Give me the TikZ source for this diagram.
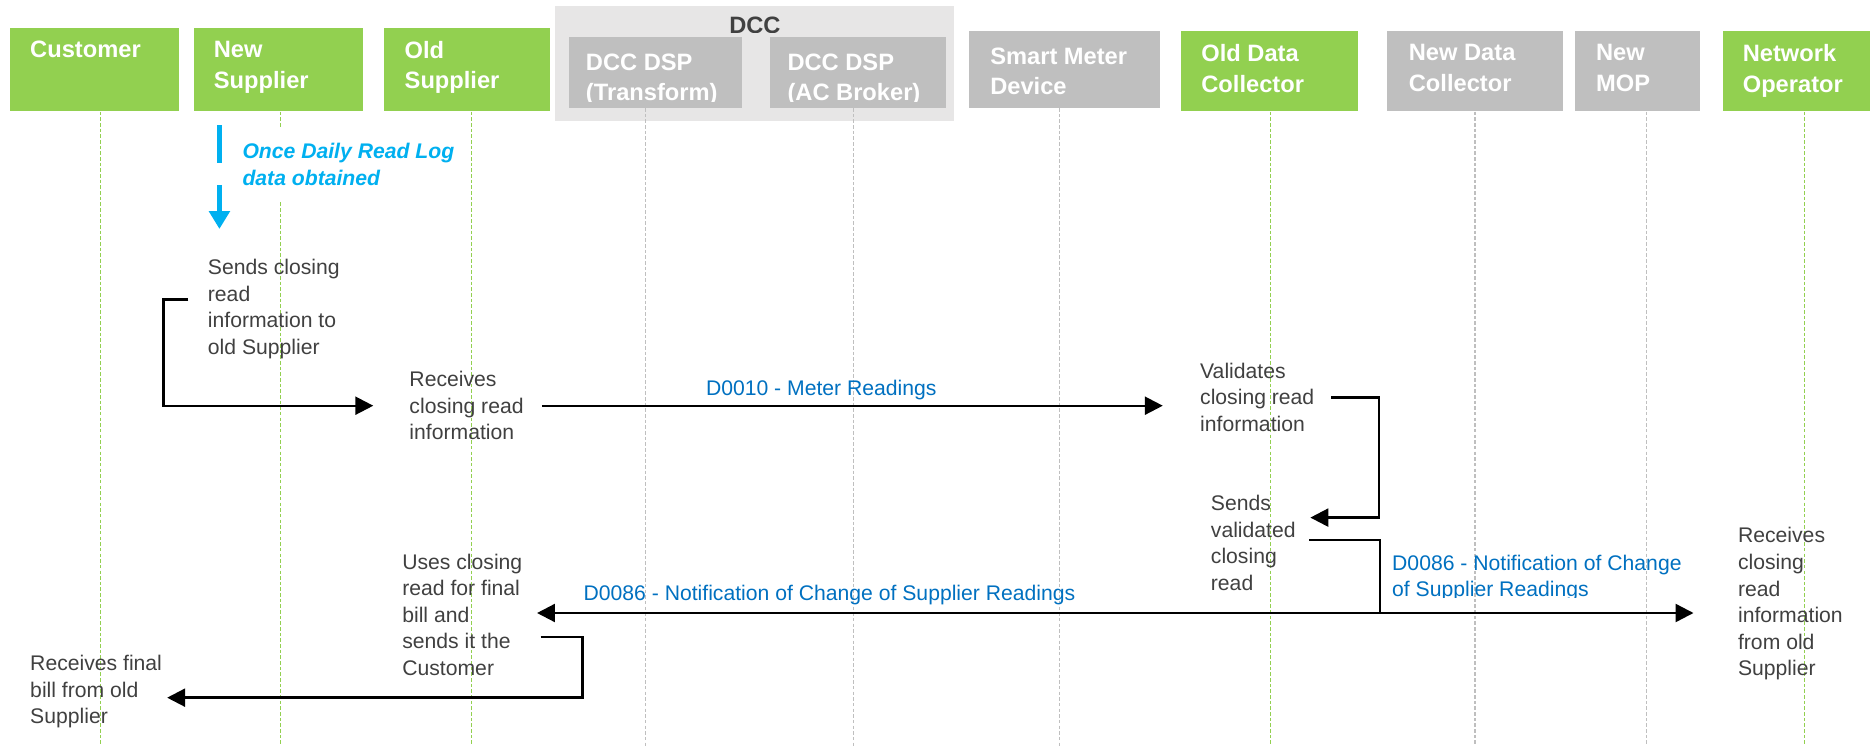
\documentclass[tikz,border=0pt]{standalone}
\usepackage{fontspec}
\setmainfont{Liberation Sans}
\usetikzlibrary{arrows.meta,calc}

\definecolor{actorgreen}{HTML}{92D050}
\definecolor{actorgrey}{HTML}{BFBFBF}
\definecolor{dccgrey}{HTML}{E7E6E6}
\definecolor{notegrey}{HTML}{404040}
\definecolor{msgblue}{HTML}{0070C0}
\definecolor{logblue}{HTML}{00B0F0}

\begin{document}
\begin{tikzpicture}[
    x=0.02cm, y=-0.02cm,
    actor/.style={rectangle, fill=actorgreen, anchor=north west, inner sep=0},
    idle/.style={actor, fill=actorgrey},
    head/.style={anchor=north west, inner xsep=0.34cm, inner ysep=0.22cm, text=white,
        align=left, font=\fontsize{11.3}{14.7}\selectfont\bfseries},
    lifeline/.style={dash pattern=on 0.06cm off 0.035cm, line width=0.55pt},
    note/.style={anchor=north west, inner sep=0, text=notegrey, align=left,
        font=\fontsize{10.1}{12.7}\selectfont},
    msglabel/.style={inner sep=0, text=msgblue, font=\fontsize{10.1}{12.7}\selectfont},
    link/.style={line width=0.04cm},
    msg/.style={link, -{Triangle[length=0.3cm, width=0.3cm]}},
    logline/.style={logblue, line width=0.09cm}
]
\useasboundingbox (0,0) rectangle (1568,625);

% DCC group
\node (dcc) [rectangle, fill=dccgrey, anchor=north west, inner sep=0,
    minimum width=6.7cm, minimum height=1.92cm] at (465,5) {};
\begin{scope}
  \clip (465,5) rectangle (800,27);
  \node (dcctitle) [anchor=north, inner sep=0, text=notegrey,
      font=\fontsize{11.3}{14.7}\selectfont\bfseries] at (633,14) {DCC};
\end{scope}

% actors
\node (cust) [actor, minimum width=2.84cm, minimum height=1.4cm] at (8,23) {};
\node (custtext) [head] at (cust.north west) {Customer};
\node (newsup) [actor, minimum width=2.84cm, minimum height=1.4cm] at (162,23) {};
\node (newsuptext) [head] at (newsup.north west) {New\\Supplier};
\node (oldsup) [actor, minimum width=2.78cm, minimum height=1.4cm] at (322,23) {};
\node (oldsuptext) [head] at (oldsup.north west) {Old\\Supplier};
\node (dsp1) [idle, minimum width=2.9cm, minimum height=1.18cm] at (477,31) {};
\node (dsp2) [idle, minimum width=2.96cm, minimum height=1.18cm] at (645,31) {};
\begin{scope}
  \clip (477,31) rectangle (800,85);
  \node (dsp1text) [head, inner ysep=0.27cm, inner xsep=0.28cm] at (dsp1.north west) {DCC DSP\\(Transform)};
  \node (dsp2text) [head, inner ysep=0.27cm, inner xsep=0.3cm] at (dsp2.north west) {DCC DSP\\(AC Broker)};
\end{scope}
\node (meter) [idle, minimum width=3.2cm, minimum height=1.28cm] at (812,26) {};
\node (metertext) [head, inner ysep=0.27cm, inner xsep=0.36cm] at (meter.north west) {Smart Meter\\Device};
\node (olddc) [actor, minimum width=2.96cm, minimum height=1.34cm] at (990,26) {};
\node (olddctext) [head] at (olddc.north west) {Old Data\\Collector};
\node (newdc) [idle, minimum width=2.94cm, minimum height=1.34cm] at (1163,26) {};
\node (newdctext) [head, inner xsep=0.36cm] at (newdc.north west) {New Data\\Collector};
\node (newmop) [idle, minimum width=2.1cm, minimum height=1.34cm] at (1320,26) {};
\node (newmoptext) [head, inner xsep=0.36cm] at (newmop.north west) {New\\MOP};
\node (netop) [actor, minimum width=2.48cm, minimum height=1.34cm] at (1444,26) {};
\node (netoptext) [head] at (netop.north west) {Network\\Operator};

% lifelines
\draw[lifeline, actorgreen] ([xshift=0.1cm]cust.south) -- ++(0,540);
\draw[lifeline, actorgreen] ([xshift=0.04cm]newsup.south) -- ++(0,540);
\draw[lifeline, actorgreen] ([xshift=0.07cm]oldsup.south) -- ++(0,540);
\draw[lifeline, actorgrey] ([xshift=-0.17cm]dsp1.south) -- ++(0,540);
\draw[lifeline, actorgrey] ([xshift=-0.08cm]dsp2.south) -- ++(0,540);
\draw[lifeline, actorgrey] ([xshift=-0.08cm]meter.south) -- ++(0,540);
\draw[lifeline, actorgreen] ([xshift=0.02cm]olddc.south) -- ++(0,540);
\draw[lifeline, actorgrey] (newdc.south) -- ++(0,540);
\draw[lifeline, actorgrey] ([xshift=0.15cm]newmop.south) -- ++(0,540);
\draw[lifeline, actorgreen] ([xshift=0.14cm]netop.south) -- ++(0,540);

% steps
\node (dailylog) [note, fill=white, inner xsep=0.1cm, inner ysep=0.28cm, text=logblue,
    font=\fontsize{10.1}{12.5}\selectfont\bfseries\itshape]
    at (198,106) {Once Daily Read Log\\data obtained};
\node (sendclose) [note] at (174,217) {Sends closing\\read\\information to\\old Supplier};
\node (recvclose) [note] at (343,311) {Receives\\closing read\\information};
\node (validate) [note] at (1006,304) {Validates\\closing read\\information};
\node (sendvalid) [note] at (1015,415) {Sends\\validated\\closing\\read};
\node (usesread) [note] at (337,464) {Uses closing\\read for final\\bill and\\sends it the\\Customer};
\node (recvbill) [note] at (25,549) {Receives final\\bill from old\\Supplier};
\node (recvnet) [note] at (1457,442) {Receives\\closing\\read\\information\\from old\\Supplier};

% daily read log marker
\draw[logline] ($(dailylog.north west)+(-14,-1)$) -- ++(0,32);
\draw[logline, -{Triangle[length=0.3cm, width=0.34cm]}]
    ($(dailylog.north west)+(-14,49)$) -- ++(0,37);

% messages
\draw[msg] ($(sendclose.north west)+(-16,34)$) -- ++(-21,0) |- ($(recvclose.west)+(-30,0)$);
\draw[msg] ($(recvclose.east)+(15,0)$) -- ($(validate.west |- recvclose.east)+(-31,0)$)
    node[msglabel, pos=0.45, above=0.07cm] {D0010 - Meter Readings};
\draw[msg] ($(validate.east)+(14,0)$) -- ++(40,0) |- ($(sendvalid.north east)+(12,19)$);

\coordinate (fork) at (1157,514);
\draw[link] ($(sendvalid.north east)+(11,38)$) -| (fork);
\draw[msg] (fork) -- ($(usesread.east |- fork)+(12,0)$)
    node[msglabel, pos=0.653, above=0.12cm] {D0086 - Notification of Change of Supplier Readings};
\draw[msg] (fork) -- ($(recvnet.west |- fork)+(-37,0)$);
\begin{scope}
  \clip (1160,455) rectangle (1450,501);
  \node (d86right) [msglabel, anchor=north west, align=left] at (1167,465)
      {D0086 - Notification of Change\\of Supplier Readings};
\end{scope}

\draw[msg] ($(usesread.north east)+(15,70)$) -- ++(35,0) |- ($(recvbill.north east)+(4,36)$);

\end{tikzpicture}
\end{document}
